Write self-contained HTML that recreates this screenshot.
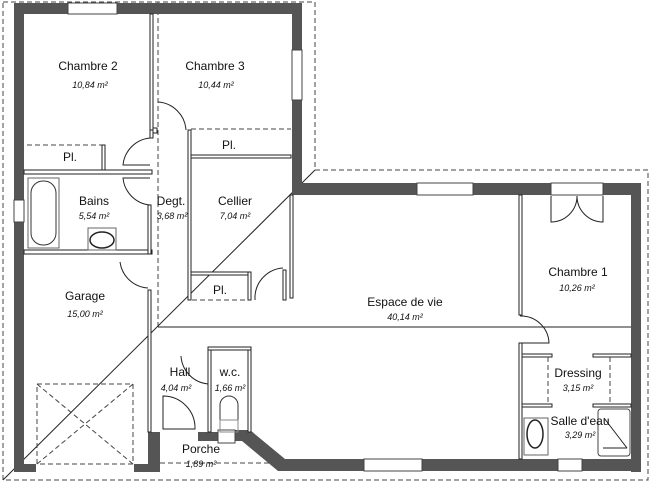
<!DOCTYPE html>
<html><head><meta charset="utf-8"><style>
html,body{margin:0;padding:0;background:#fff}
svg{display:block}
text{font-family:"Liberation Sans",sans-serif;fill:#111}
.n{font-size:12px}
.a{font-size:9px;font-style:italic}
.w{fill:#555}
.i{fill:#fff;stroke:#222;stroke-width:1}
.d{fill:none;stroke:#444;stroke-width:1;stroke-dasharray:5,3}
.l{fill:none;stroke:#222;stroke-width:1}
.win{fill:#fff;stroke:#444;stroke-width:1}
</style></head><body>
<svg width="650" height="486" viewBox="0 0 650 486" xmlns="http://www.w3.org/2000/svg">
<rect width="650" height="486" fill="#fff"/>
<path class="d" d="M3,2 H315 V170 H648 V480 H3 Z"/>
<path class="d" d="M158,2 V327"/>
<path class="l" d="M315,170 L3,480"/>
<path class="l" d="M158,327 H640"/>
<rect class="w" x="14" y="3" width="10" height="469"/>
<rect class="w" x="14" y="3" width="288" height="11"/>
<rect class="w" x="292" y="3" width="10" height="185"/>
<rect class="w" x="292" y="183" width="349" height="12"/>
<rect class="w" x="631" y="183" width="10" height="289"/>
<rect class="w" x="280" y="459" width="361" height="12"/>
<polygon class="w" points="235,430 250,430 285,459 285,471 278,471 242,441 235,441"/>
<rect class="w" x="14" y="464" width="22" height="8"/>
<rect class="w" x="134" y="464" width="26" height="8"/>
<rect class="w" x="148" y="432" width="12" height="40"/>
<rect class="w" x="198" y="432" width="20" height="9"/>
<rect class="win" x="68" y="3" width="49" height="11"/>
<rect class="win" x="292" y="50" width="10" height="50"/>
<rect class="win" x="14" y="200" width="10" height="22"/>
<rect class="win" x="417" y="183" width="56" height="12"/>
<rect class="win" x="551" y="183" width="52" height="12"/>
<rect class="win" x="364" y="459" width="58" height="12"/>
<rect class="win" x="558" y="459" width="24" height="12"/>
<rect class="win" x="218" y="430" width="17" height="13"/>
<rect class="i" x="150" y="14" width="3" height="116"/>
<rect class="i" x="153" y="128" width="4" height="5"/>
<path class="d" d="M27,145 H103"/>
<rect class="i" x="102" y="145" width="3" height="26"/>
<rect class="i" x="24" y="170" width="128" height="4"/>
<rect class="i" x="150" y="130" width="3" height="8"/>
<rect class="i" x="24" y="250" width="128" height="4"/>
<rect class="i" x="148" y="205" width="3" height="49"/>
<rect class="i" x="148" y="290" width="3" height="142"/>
<rect class="i" x="188" y="130" width="3" height="170"/>
<path class="d" d="M191,129 H291"/>
<rect class="i" x="191" y="155" width="100" height="3"/>
<rect class="i" x="290" y="195" width="3" height="103"/>
<rect class="i" x="191" y="272" width="59" height="3"/>
<rect class="i" x="248" y="272" width="3" height="28"/>
<path class="d" d="M192,300 H248"/>
<rect class="i" x="283" y="270" width="3" height="30"/>
<path class="l" d="M255,300 V296 A30,30 0 0 1 283,268"/>
<rect class="i" x="208" y="348" width="3" height="84"/>
<rect class="i" x="248" y="348" width="3" height="84"/>
<rect class="i" x="208" y="347" width="43" height="3"/>
<path class="l" d="M158,102 A30,30 0 0 1 186,130"/>
<path class="l" d="M150,138 A30,30 0 0 0 123,165 H150"/>
<path class="l" d="M150,205 A30,30 0 0 1 123,178 H150"/>
<path class="l" d="M120,262 A30,30 0 0 0 148,288"/>
<path class="l" d="M181,356 A30,30 0 0 0 208,384"/>
<path class="l" d="M163,429 V396 A32,32 0 0 1 195,429 Z"/>
<path class="l" d="M520,316 A28,28 0 0 1 549,343 H520"/>
<path class="l" d="M551,196 V222 A26,26 0 0 0 577,196 M603,196 V222 A26,26 0 0 1 577,196"/>
<rect class="i" x="519" y="195" width="3" height="120"/>
<rect class="i" x="519" y="343" width="3" height="116"/>
<rect class="i" x="522" y="354" width="30" height="3"/>
<rect class="i" x="593" y="354" width="38" height="3"/>
<rect class="i" x="522" y="404" width="30" height="3"/>
<rect class="i" x="593" y="404" width="38" height="3"/>
<path class="d" d="M548,357 V404 M610,357 V404"/>
<path class="d" d="M160,463 H272"/>
<path class="d" d="M37,384 H133 V464 H37 Z M37,384 L133,464 M133,384 L37,464"/>
<rect x="28" y="178" width="31" height="70" fill="none" stroke="#666"/>
<rect x="31" y="181" width="25" height="64" rx="12" fill="none" stroke="#333"/>
<rect x="88" y="228" width="28" height="22" fill="none" stroke="#666"/>
<ellipse cx="102" cy="240" rx="12" ry="8" fill="none" stroke="#222" stroke-width="1.5"/>
<rect x="524" y="418" width="24" height="37" fill="none" stroke="#666"/>
<ellipse cx="535" cy="434" rx="8" ry="14" fill="none" stroke="#222" stroke-width="1.5"/>
<rect x="598" y="409" width="32" height="47" rx="3" fill="none" stroke="#444"/>
<path class="l" d="M604,418 L627,448 M603,448 H627"/>
<path d="M220,420 V405 A9,9 0 0 1 238,405 V420 Z" fill="none" stroke="#333"/>
<rect x="220" y="420" width="18" height="12" fill="none" stroke="#888"/>
<text class="n" x="88" y="70" text-anchor="middle">Chambre 2</text>
<text class="a" x="90" y="88" text-anchor="middle">10,84 m²</text>
<text class="n" x="215" y="70" text-anchor="middle">Chambre 3</text>
<text class="a" x="216" y="88" text-anchor="middle">10,44 m²</text>
<text class="n" x="70" y="161" text-anchor="middle">Pl.</text>
<text class="n" x="229" y="149" text-anchor="middle">Pl.</text>
<text class="n" x="94" y="205" text-anchor="middle">Bains</text>
<text class="a" x="94" y="219" text-anchor="middle">5,54 m²</text>
<text class="n" x="171" y="205" text-anchor="middle">Degt.</text>
<text class="a" x="172" y="219" text-anchor="middle">3,68 m²</text>
<text class="n" x="235" y="205" text-anchor="middle">Cellier</text>
<text class="a" x="235" y="219" text-anchor="middle">7,04 m²</text>
<text class="n" x="220" y="294" text-anchor="middle">Pl.</text>
<text class="n" x="85" y="300" text-anchor="middle">Garage</text>
<text class="a" x="85" y="317" text-anchor="middle">15,00 m²</text>
<text class="n" x="405" y="306" text-anchor="middle">Espace de vie</text>
<text class="a" x="405" y="320" text-anchor="middle">40,14 m²</text>
<text class="n" x="578" y="276" text-anchor="middle">Chambre 1</text>
<text class="a" x="577" y="291" text-anchor="middle">10,26 m²</text>
<text class="n" x="578" y="377" text-anchor="middle">Dressing</text>
<text class="a" x="578" y="391" text-anchor="middle">3,15 m²</text>
<text class="n" x="580" y="425" text-anchor="middle">Salle d'eau</text>
<text class="a" x="580" y="438" text-anchor="middle">3,29 m²</text>
<text class="n" x="180" y="376" text-anchor="middle">Hall</text>
<text class="a" x="176" y="391" text-anchor="middle">4,04 m²</text>
<text class="n" x="230" y="376" text-anchor="middle">w.c.</text>
<text class="a" x="230" y="391" text-anchor="middle">1,66 m²</text>
<text class="n" x="201" y="453" text-anchor="middle">Porche</text>
<text class="a" x="201" y="467" text-anchor="middle">1,89 m²</text>
</svg>
</body></html>
